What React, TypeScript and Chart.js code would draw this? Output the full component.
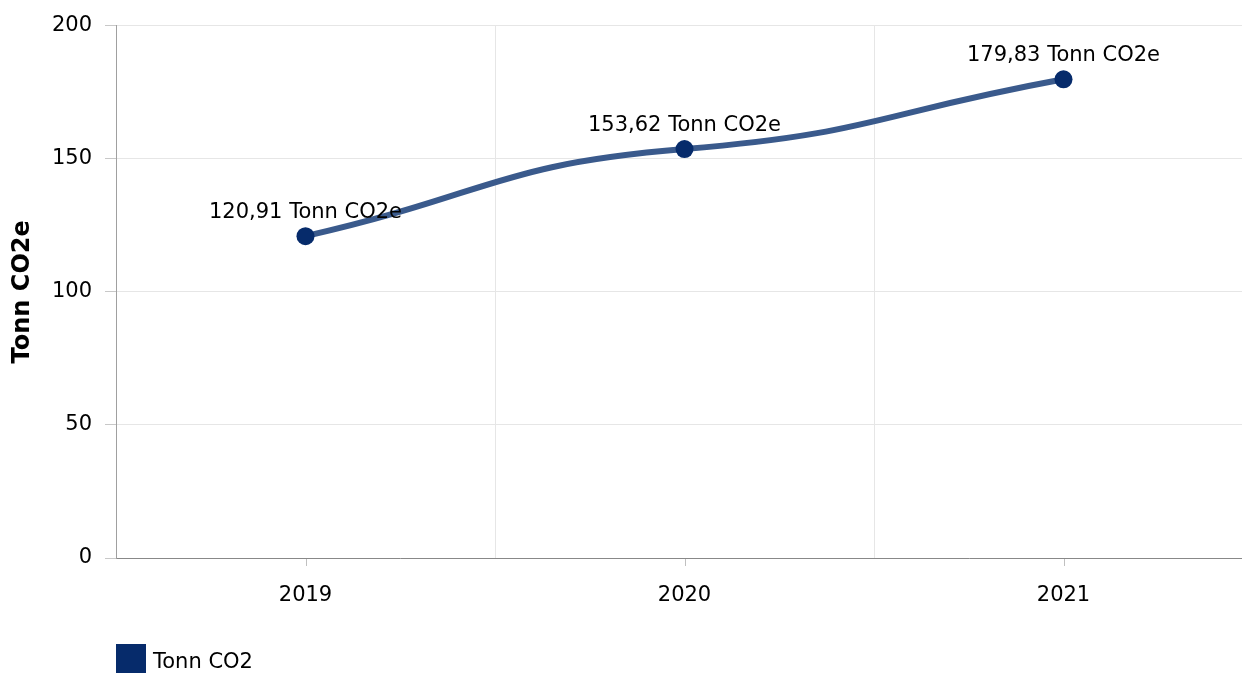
import React, { useEffect, useRef } from "react";
import { Chart, registerables } from "chart.js";

Chart.register(...registerables);

// ---- data ----
const categories = ["2019", "2020", "2021"];
const values = [120.91, 153.62, 179.83];
const seriesName = "Tonn CO2";
const unitLabel = "Tonn CO2e";
const yAxisTitle = "Tonn CO2e";
const yTicks = [0, 50, 100, 150, 200];

// ---- style ----
const FONT = "'DejaVu Sans', Verdana, sans-serif";
const NAVY = "#062b6b";
const LINE = "#3a5a8c";
const SPLINE_ARM = 0.5; // control arm as share of segment width
const INNER_FLATTEN = 0.4; // tangent flattening at interior points

const fmt = (v: number) => v.toFixed(2).replace(".", ",");

export default function App() {
  const ref = useRef<HTMLCanvasElement>(null);

  useEffect(() => {
    const canvas = ref.current;
    if (!canvas) return;

    // smooth spline: computes bezier control points from the library's point positions
    const splineShape = {
      id: "splineShape",
      beforeDatasetDraw(chart: any, args: any) {
        const meta = args.meta;
        const pts = meta.data;
        const n = pts.length;
        if (n < 2) return;
        for (let i = 0; i < n; i++) {
          const p = pts[i];
          const prev = pts[i - 1];
          const next = pts[i + 1];
          let m: number;
          if (!prev) m = (next.y - p.y) / (next.x - p.x);
          else if (!next) m = (p.y - prev.y) / (p.x - prev.x);
          else m = INNER_FLATTEN * ((next.y - prev.y) / (next.x - prev.x));
          const dl = prev ? (p.x - prev.x) * SPLINE_ARM : 0;
          const dr = next ? (next.x - p.x) * SPLINE_ARM : 0;
          p.cp1x = p.x - dl;
          p.cp1y = p.y - dl * m;
          p.cp2x = p.x + dr;
          p.cp2y = p.y + dr * m;
        }
        meta.dataset._pointsUpdated = true;
        meta.dataset._path = undefined;
      },
    };

    const centerTicks = {
      id: "centerTicks",
      afterDraw(chart: any) {
        const xs = chart.scales.x;
        const ctx = chart.ctx;
        const b = chart.chartArea.bottom;
        ctx.save();
        ctx.strokeStyle = "#c0c0c0";
        ctx.lineWidth = 1;
        categories.forEach((_, i) => {
          const x = Math.round(xs.getPixelForValue(i)) + 0.5;
          ctx.beginPath();
          ctx.moveTo(x, b + 1);
          ctx.lineTo(x, b + 8);
          ctx.stroke();
        });
        ctx.restore();
      },
    };

    const dataLabels = {
      id: "dataLabels",
      afterDatasetsDraw(chart: any) {
        const ctx = chart.ctx;
        const meta = chart.getDatasetMeta(0);
        ctx.save();
        ctx.font = `21px ${FONT}`;
        ctx.fillStyle = "#000";
        ctx.textAlign = "center";
        ctx.textBaseline = "alphabetic";
        meta.data.forEach((pt: any, i: number) => {
          ctx.fillText(`${fmt(values[i])} ${unitLabel}`, pt.x, pt.y - 18);
        });
        ctx.restore();
      },
    };

    const bottomLegend = {
      id: "bottomLegend",
      afterDraw(chart: any) {
        const ctx = chart.ctx;
        const left = chart.chartArea.left;
        const top = chart.height - 29;
        ctx.save();
        ctx.fillStyle = NAVY;
        ctx.fillRect(left, top, 30, 30);
        ctx.font = `21px ${FONT}`;
        ctx.fillStyle = "#000";
        ctx.textAlign = "left";
        ctx.textBaseline = "alphabetic";
        ctx.fillText(seriesName, left + 37, top + 24);
        ctx.restore();
      },
    };

    const chart = new Chart(canvas, {
      type: "line",
      data: {
        labels: categories,
        datasets: [
          {
            label: seriesName,
            data: values,
            borderColor: LINE,
            borderWidth: 6,
            backgroundColor: NAVY,
            pointBackgroundColor: NAVY,
            pointBorderWidth: 0,
            pointRadius: 9,
            tension: 0.4,
            fill: false,
            clip: false as any,
          },
        ],
      },
      options: {
        animation: false,
        responsive: false,
        devicePixelRatio: 1,
        layout: { autoPadding: false, padding: { top: 24, left: 0, right: 0, bottom: 55 } },
        plugins: {
          legend: { display: false },
          tooltip: { enabled: false },
        },
        scales: {
          x: {
            type: "category",
            offset: true,
            grid: { offset: true, color: "#e6e6e6", drawTicks: false },
            border: { color: "#888888", width: 1 },
            ticks: { font: { family: FONT, size: 21 }, color: "#000", padding: 25, maxRotation: 0 },
            afterFit: (s: any) => {
              s.height = 60;
            },
          },
          y: {
            min: yTicks[0],
            max: yTicks[yTicks.length - 1],
            afterBuildTicks: (s: any) => {
              s.ticks = yTicks.map((v) => ({ value: v }));
            },
            grid: { color: "#e6e6e6", tickColor: "#c8c8c8", tickLength: 11 },
            border: { color: "#a0a0a0", width: 1 },
            ticks: { font: { family: FONT, size: 21 }, color: "#000", padding: 13 },
            title: {
              display: true,
              text: yAxisTitle,
              color: "#000",
              font: { family: FONT, size: 24, weight: "bold" },
              padding: { top: 8, bottom: 0 },
            },
            afterFit: (s: any) => {
              s.width = 116;
            },
          },
        },
      },
      plugins: [splineShape, centerTicks, dataLabels, bottomLegend],
    });

    return () => chart.destroy();
  }, []);

  return (
    <div
      style={{
        position: "fixed",
        left: 0,
        top: 0,
        width: 1242,
        height: 673,
        overflow: "hidden",
        background: "#fff",
      }}
    >
      <canvas ref={ref} width={1253} height={673} style={{ width: 1253, height: 673, display: "block" }} />
    </div>
  );
}
